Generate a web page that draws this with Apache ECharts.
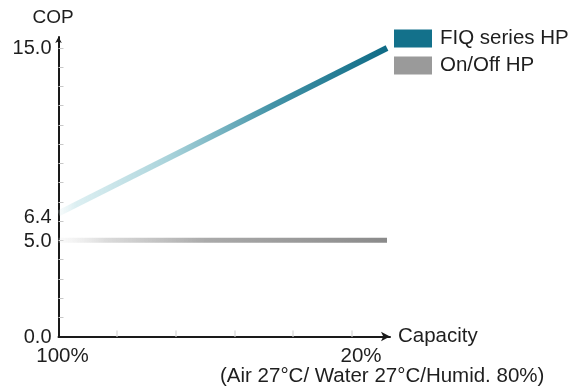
<!DOCTYPE html>
<html><head><meta charset="utf-8">
<script src="https://cdn.jsdelivr.net/npm/echarts@6/dist/echarts.min.js"></script>
<style>html,body{margin:0;padding:0;background:#fff}#c{width:586px;height:387px}</style>
</head><body><div id="c"></div>
<script>
const capacity = [100, 20];
const fiqCOP = [6.4, 15.0];
const onoffCOP = [5.0, 5.0];
const yLabels = [0, 5, 6.4, 15];
const yTicks = [1,2,3,4,5,6,7,8,9,10,11,12,13,14,15];
const xLabels = [100, 20];
const xTicks = [100-100/7, 100-200/7, 100-300/7, 100-400/7, 100-500/7];
const seriesNames = ['FIQ series HP', 'On/Off HP'];
const subtitle = '(Air 27°C/ Water 27°C/Humid. 80%)';
const FONT = '"Liberation Sans", Arial, sans-serif';
const TXT = '#1e1e1e';

const chart = echarts.init(document.getElementById('c'), null, {renderer: 'canvas'});
chart.setOption({
  animation: false,
  grid: {left: 58.5, right: 196, top: 37, bottom: 50.5, containLabel: false, outerBoundsMode: 'none'},
  legend: {
    left: 394, top: 28, orient: 'vertical', itemWidth: 38, itemHeight: 18, itemGap: 6,
    icon: 'rect', padding: 0,
    textStyle: {fontFamily: FONT, fontSize: 20.5, lineHeight: 18, color: TXT, padding: [0,0,0,3]},
    data: [
      {name: seriesNames[0], itemStyle: {color: '#13718b'}},
      {name: seriesNames[1], itemStyle: {color: '#9a9a9a'}}
    ]
  },
  title: {
    text: subtitle, left: 215, top: 361,
    textStyle: {fontFamily: FONT, fontSize: 20.5, fontWeight: 'normal', color: TXT}
  },
  xAxis: {
    type: 'value', inverse: true, min: 19.27, max: 100,
    name: 'Capacity', nameLocation: 'start', nameGap: 8,
    nameTextStyle: {fontFamily: FONT, fontSize: 20.5, color: TXT, verticalAlign: 'middle', padding: [0,0,11,0]},
    axisLine: {lineStyle: {color: '#1a1a1a', width: 2}, symbol: ['none','arrow'], symbolSize: [7, 9]},
    axisTick: {show: true, inside: true, length: 6, customValues: xTicks, lineStyle: {color: '#e6e6e6', width: 2}},
    splitLine: {show: false},
    axisLabel: {
      customValues: xLabels, margin: 9,
      formatter: v => v === 100 ? '{a|' + v + '%}' : '{b|' + v + '%}',
      rich: {
        a: {fontFamily: FONT, fontSize: 20.5, color: TXT, padding: [0,0,0,8]},
        b: {fontFamily: FONT, fontSize: 20.5, color: TXT, padding: [0,52,0,0]}
      }
    }
  },
  yAxis: {
    type: 'value', min: 0, max: 15.57,
    name: 'COP', nameLocation: 'end', nameGap: 10,
    nameTextStyle: {fontFamily: FONT, fontSize: 19, color: TXT, align: 'center', padding: [0,11,0,0]},
    axisLine: {show: true, lineStyle: {color: '#1a1a1a', width: 2}, symbol: ['none','arrow'], symbolSize: [5, 6]},
    axisTick: {show: true, inside: true, length: 5, customValues: yTicks, lineStyle: {color: '#c8c8c8', width: 1}},
    splitLine: {show: false},
    axisLabel: {
      customValues: yLabels, margin: 7,
      formatter: v => v === 6.4 ? '{d|' + v.toFixed(1) + '}' : '{n|' + v.toFixed(1) + '}',
      rich: {
        n: {fontFamily: FONT, fontSize: 20, color: TXT, padding: [2,0,0,0]},
        d: {fontFamily: FONT, fontSize: 20, color: TXT, padding: [8,0,0,0]}
      }
    }
  },
  series: [
    {
      name: seriesNames[0], type: 'line', showSymbol: false, symbol: 'none',
      data: capacity.map((c, i) => [c, fiqCOP[i]]),
      itemStyle: {color: '#13718b'},
      lineStyle: {width: 6, color: new echarts.graphic.LinearGradient(0,0,1,0,[
        {offset: 0, color: 'rgba(220,238,240,0.1)'},
        {offset: 0.06, color: 'rgba(205,232,236,0.7)'},
        {offset: 0.35, color: '#a6d1d9'},
        {offset: 0.65, color: '#4393a7'},
        {offset: 1, color: '#0d6a85'}
      ])}
    },
    {
      name: seriesNames[1], type: 'line', showSymbol: false, symbol: 'none',
      data: capacity.map((c, i) => [c, onoffCOP[i]]),
      itemStyle: {color: '#9a9a9a'},
      lineStyle: {width: 5, color: new echarts.graphic.LinearGradient(0,0,1,0,[
        {offset: 0, color: 'rgba(235,235,235,0.2)'},
        {offset: 0.15, color: 'rgba(215,215,215,0.9)'},
        {offset: 0.45, color: '#aaaaaa'},
        {offset: 1, color: '#8a8a8a'}
      ])}
    }
  ]
});
</script></body></html>
